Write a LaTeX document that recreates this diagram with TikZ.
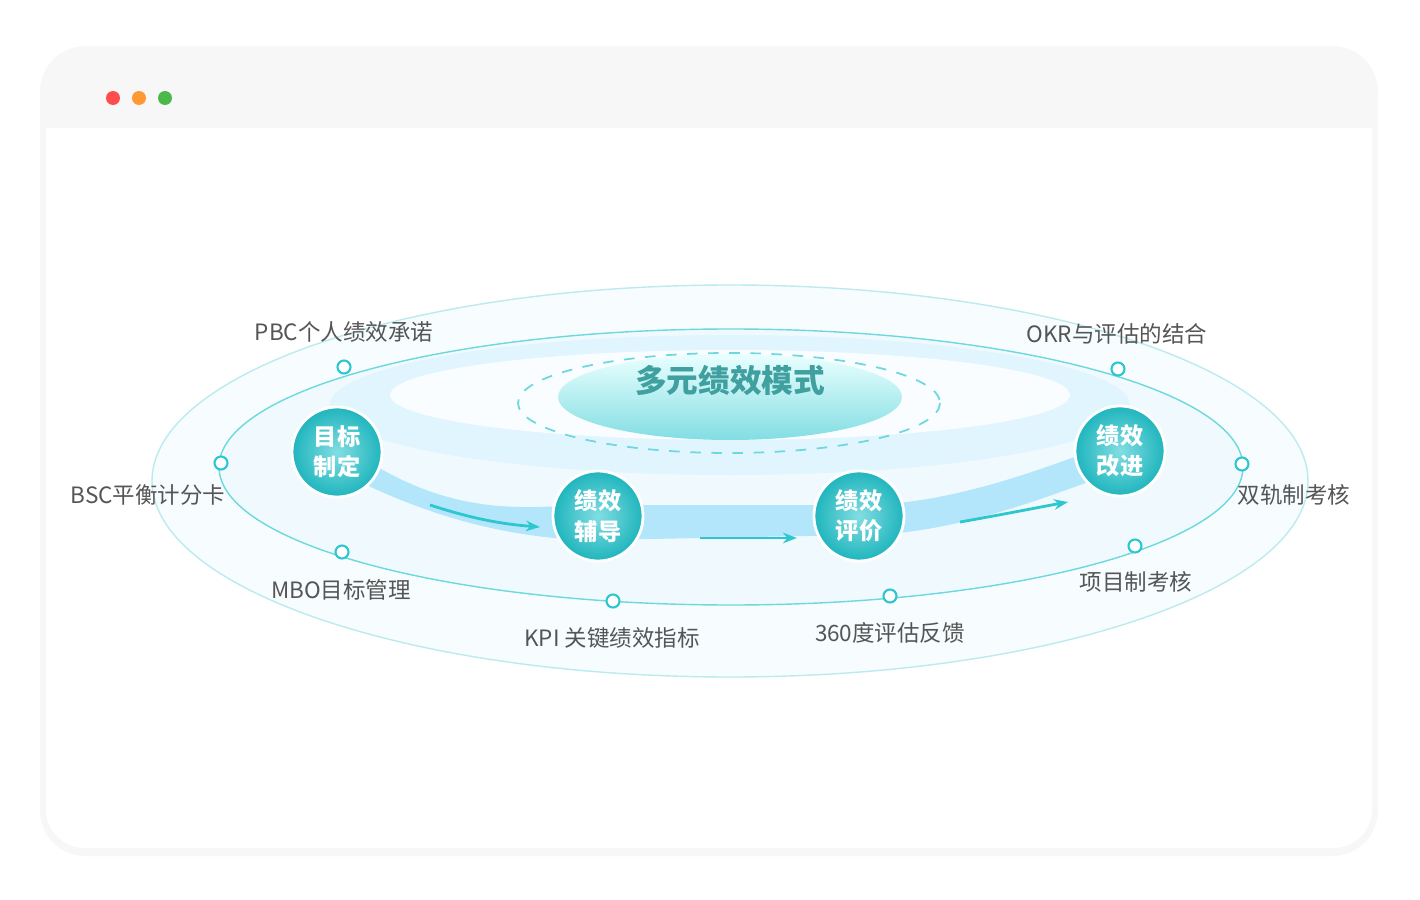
\documentclass[tikz,border=0pt]{standalone}
\usepackage{fontspec}
\setmainfont{Noto Sans CJK SC}
\usepackage{tikz}
\usetikzlibrary{shapes,fit,arrows.meta}
\definecolor{teal1}{HTML}{2EC7CF}
\definecolor{teal2}{HTML}{1FB5BD}
\definecolor{labgray}{HTML}{555555}
\definecolor{ringc}{HTML}{9FE3E8}
\tikzset{
  stage/.style={circle,minimum size=0.9cm,inner sep=0pt,draw=white,line width=0.8pt,
    shading=radial,inner color=teal1!60,outer color=teal2,text=white,font=\fontsize{6.6pt}{8.6pt}\selectfont\bfseries,align=center},
  marker/.style={circle,draw=teal1,line width=0.6pt,fill=white,minimum size=0.13cm,inner sep=0pt},
  lab/.style={text=labgray,font=\fontsize{6.4pt}{8pt}\selectfont}
}
\begin{document}
\begin{tikzpicture}[x=0.01cm,y=-0.01cm]
         \useasboundingbox (0,0) rectangle (1420,900);
         \fill[white] (0,0) rectangle (1420,900);
         \fill[black!3,rounded corners=13pt] (40,46) rectangle (1378,856);
         \fill[white,rounded corners=11pt] (46,52) rectangle (1372,848);
         \begin{scope}
           \clip[rounded corners=11pt] (46,52) rectangle (1372,848);
           \fill[black!3] (46,52) rectangle (1372,128);
         \end{scope}
         \fill[red!70] (113,98) circle (7);
         \fill[orange!80] (139,98) circle (7);
         \fill[green!60!black!70] (165,98) circle (7);
         % rings
         \fill[cyan!3] (730,481) ellipse (578 and 196);
         \draw[ringc!70,line width=0.4pt] (730,481) ellipse (578 and 196);
         \fill[cyan!6] (731,467) ellipse (512 and 138);
         \draw[teal1!70,line width=0.4pt] (731,467) ellipse (512 and 138);
         \fill[cyan!12] (730,405) ellipse (400 and 70);
         \fill[white!70!cyan!8] (730,395) ellipse (340 and 45);
         % band
         \fill[cyan!30] (337,440) .. controls (450,525) and (530,505) .. (598,505)
             -- (859,505) .. controls (950,505) and (1040,470) .. (1120,440)
             -- (1120,470) .. controls (1040,500) and (950,535) .. (859,535)
             -- (598,540) .. controls (520,540) and (430,520) .. (337,470) -- cycle;
         \draw[teal1,line width=0.8pt,-{Stealth[length=4pt]}] (430,505) .. controls (470,518) and (500,524) .. (540,527);
         \draw[teal1,line width=0.8pt,-{Stealth[length=4pt]}] (700,538) -- (797,538);
         \draw[teal1,line width=0.8pt,-{Stealth[length=4pt]}] (960,522) .. controls (1000,515) and (1035,508) .. (1068,502);
         % centre
         \draw[teal1!70,dashed,line width=0.5pt] (729,403) ellipse (211 and 50);
         \shade[top color=cyan!8,bottom color=teal1!60] (730,397) ellipse (172 and 43);
         \node[text=teal!75,font=\fontsize{9pt}{11pt}\selectfont\bfseries] (title) at (730,380) {多元绩效模式};
         % stages
         \node[stage] (goal) at (337,452) {目标\\制定};
         \node[stage] (coach) at (598,516) {绩效\\辅导};
         \node[stage] (eval) at (859,516) {绩效\\评价};
         \node[stage] (impr) at (1120,451) {绩效\\改进};
         % models
         \foreach \mx/\my/\lx/\ly/\txt in {344/367/344/332/PBC个人绩效承诺, 221/463/148/495/BSC平衡计分卡,
             342/552/341/590/MBO目标管理, 613/601/612/638/KPI 关键绩效指标, 890/596/890/633/360度评估反馈,
             1135/546/1136/582/项目制考核, 1242/464/1294/495/双轨制考核, 1118/369/1117/334/OKR与评估的结合}
           {\node[marker] at (\mx,\my) {};
            \node[lab] at (\lx,\ly) {\txt};}
      \end{tikzpicture}
\end{document}
